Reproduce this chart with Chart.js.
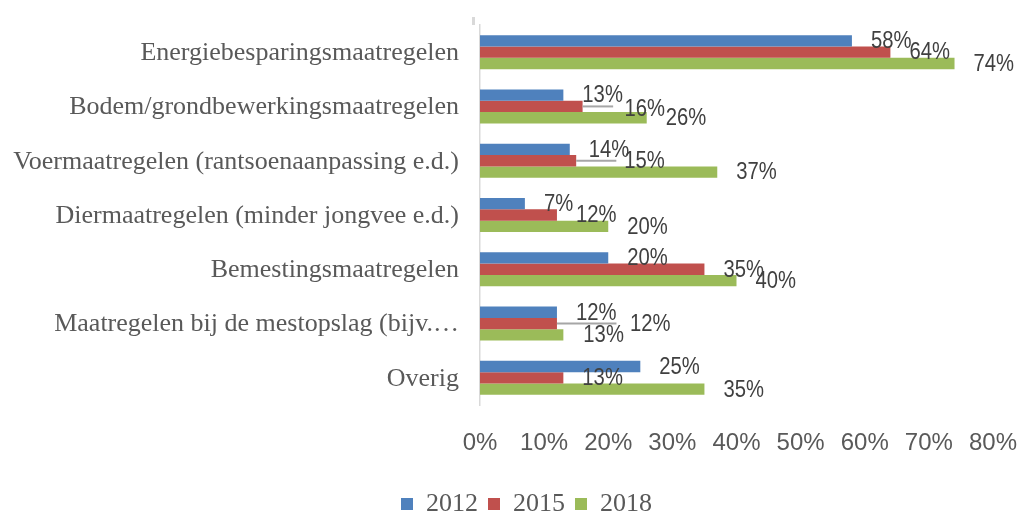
<!DOCTYPE html>
<html>
<head>
<meta charset="utf-8">
<script src="https://cdn.jsdelivr.net/npm/chart.js@4.4.1/dist/chart.umd.min.js"></script>
<style>
  html, body { margin: 0; padding: 0; background: #fff; }
  #wrap { width: 1018px; height: 513px; }
</style>
</head>
<body>
<div id="wrap"><canvas id="chart"></canvas></div>
<script>
const categories = [
  "Energiebesparingsmaatregelen",
  "Bodem/grondbewerkingsmaatregelen",
  "Voermaatregelen (rantsoenaanpassing e.d.)",
  "Diermaatregelen (minder jongvee e.d.)",
  "Bemestingsmaatregelen",
  "Maatregelen bij de mestopslag (bijv.…",
  "Overig"
];
const years = ["2012", "2015", "2018"];
const values2012 = [58, 13, 14, 7, 20, 12, 25];
const values2015 = [64, 16, 15, 12, 35, 12, 13];
const values2018 = [74, 26, 37, 20, 40, 13, 35];
const xTicks = [0, 10, 20, 30, 40, 50, 60, 70, 80];

const serif = "'Liberation Serif', 'Times New Roman', serif";
const sans = "'Liberation Sans', Arial, sans-serif";
const textGrey = "#595959";

// value labels next to the bar ends, some moved by hand like in the original
const valueLabels = {
  id: "valueLabels",
  afterLayout(chart, args, opts) {
    // the original legend sits a bit right of the canvas centre
    if (chart.legend) chart.legend.left += opts.legendShift;
  },
  afterDatasetsDraw(chart, args, opts) {
    const ctx = chart.ctx;
    const area = chart.chartArea;
    ctx.save();

    // little grey stub above the axis (leftover from the original)
    ctx.fillStyle = "#d9d9d9";
    ctx.fillRect(area.left - 8, area.top - 8, 3, 8);

    ctx.font = opts.size + "px " + sans;
    ctx.textBaseline = "middle";
    ctx.textAlign = "left";

    const place = (di, i) => {
      const bar = chart.getDatasetMeta(di).data[i];
      const n = opts.nudge[di + "-" + i] || [0, 0];
      return { x: bar.x + opts.gap + n[0], y: bar.y + 1 + n[1] };
    };

    // leader lines from the 2015 bar end under the 2012 label
    ctx.strokeStyle = "#a6a6a6";
    ctx.lineWidth = 2;
    Object.keys(opts.leaders).forEach(k => {
      const i = +k;
      const p = place(0, i);
      const from = chart.getDatasetMeta(1).data[i];
      const w = ctx.measureText(chart.data.datasets[0].data[i] + "%").width * opts.squeeze;
      ctx.beginPath();
      ctx.moveTo(from.x, from.y);
      ctx.lineTo(p.x + w * opts.leaders[k], from.y);
      ctx.stroke();
    });

    ctx.fillStyle = "#404040";
    chart.data.datasets.forEach((ds, di) => {
      ds.data.forEach((v, i) => {
        const p = place(di, i);
        ctx.save();
        ctx.translate(p.x, p.y);
        ctx.scale(opts.squeeze, 1);
        ctx.fillText(v + "%", 0, 0);
        ctx.restore();
      });
    });
    ctx.restore();
  }
};

new Chart(document.getElementById("chart"), {
  type: "bar",
  data: {
    labels: categories,
    datasets: [
      { label: years[0], data: values2012, backgroundColor: "#4F81BD" },
      { label: years[1], data: values2015, backgroundColor: "#C0504D" },
      { label: years[2], data: values2018, backgroundColor: "#9BBB59" }
    ]
  },
  plugins: [valueLabels],
  options: {
    indexAxis: "y",
    animation: false,
    responsive: true,
    maintainAspectRatio: false,
    layout: { padding: { top: 25, right: 25, left: 0, bottom: 0 } },
    datasets: {
      bar: { categoryPercentage: 0.626, barPercentage: 1.0 }
    },
    scales: {
      x: {
        min: 0,
        max: 80,
        afterBuildTicks: s => { s.ticks = xTicks.map(v => ({ value: v })); },
        afterFit: s => {
          s.height = 76;
          s.paddingLeft = 0;
          s.paddingRight = 0;
        },
        grid: { display: false },
        border: { display: false },
        ticks: {
          callback: v => v + "%",
          color: textGrey,
          padding: 16,
          maxRotation: 0,
          font: { family: sans, size: 24 }
        }
      },
      y: {
        afterFit: s => {
          s.width = 480;
          s.paddingTop = 0;
          s.paddingBottom = 0;
        },
        grid: { display: false, drawTicks: false },
        border: { display: true, color: "#d9d9d9", width: 1.5 },
        ticks: {
          color: textGrey,
          padding: 21,
          labelOffset: 1,
          font: { family: serif, size: 26 }
        }
      }
    },
    plugins: {
      legend: {
        position: "bottom",
        maxHeight: 32,
        labels: {
          color: textGrey,
          boxWidth: 12,
          boxHeight: 12,
          padding: 10,
          font: { family: serif, size: 26 }
        }
      },
      tooltip: { enabled: false },
      valueLabels: {
        size: 23,
        squeeze: 0.88,
        gap: 19,
        legendShift: 60,
        nudge: { "1-1": [23, 2], "1-2": [29, 0], "1-5": [54, 0], "2-5": [1, 0] },
        leaders: { 1: 0.76, 2: 0.68, 5: 1.0 }
      }
    }
  }
});
</script>
</body>
</html>
